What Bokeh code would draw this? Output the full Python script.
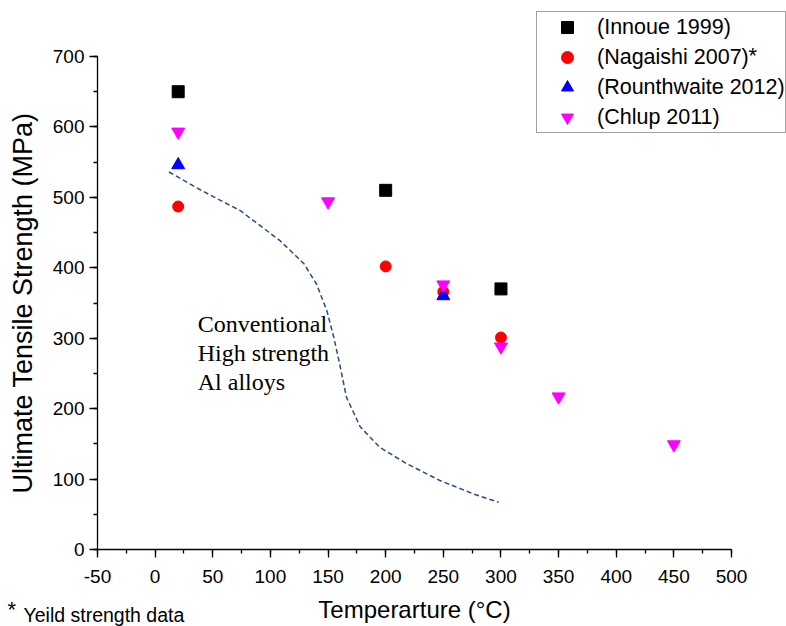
from bokeh.plotting import figure
from bokeh.models import Legend, LegendItem, Label, SingleIntervalTicker
from bokeh.core.properties import value
from bokeh.embed import file_html
from bokeh.resources import INLINE

# ---------------- data ----------------
innoue_t = [20, 200, 300]
innoue_s = [650, 510, 370]

nagaishi_t = [20, 200, 250, 300]
nagaishi_s = [487, 402, 366, 301]

rounth_t = [20, 250]
rounth_s = [546, 360]

chlup_t = [20, 150, 250, 300, 350, 450]
chlup_s = [593, 494, 376, 288, 217, 149]

conv_t = [12, 40, 74, 108, 129, 140, 149, 155, 160, 166, 178, 195, 218, 247, 276, 298]
conv_s = [536, 510, 481, 439, 406, 377, 339, 301, 264, 216, 174, 145, 122, 98, 79, 67]

series_labels = ["(Innoue 1999)", "(Nagaishi 2007)", "(Rounthwaite 2012)", "(Chlup 2011)"]
annotation_text = "Conventional\nHigh strength\nAl alloys"
annotation_pos = (37, 338)
footnote = "Yeild strength data"
x_axis_range = (-50, 500)
y_axis_range = (0, 700)

# ---------------- layout geometry (pixels) ----------------
W, H = 786, 626
FL, FR, FT, FB = 97, 731, 56, 549          # where the axes box sits in the picture
sx = (FR - FL) / (x_axis_range[1] - x_axis_range[0])
sy = (FB - FT) / (y_axis_range[1] - y_axis_range[0])
xr = (x_axis_range[0] - FL / sx, x_axis_range[1] + (W - FR) / sx)
yr = (y_axis_range[0] - (H - FB) / sy, y_axis_range[1] + FT / sy)

p = figure(width=W, height=H, x_range=xr, y_range=yr,
           output_backend="svg", toolbar_location=None, min_border=0)
p.outline_line_color = None
p.xgrid.visible = False
p.ygrid.visible = False
p.background_fill_color = "white"
p.border_fill_color = "white"

xa = p.xaxis[0]
ya = p.yaxis[0]
xa.fixed_location = y_axis_range[0]
xa.bounds = x_axis_range
ya.fixed_location = x_axis_range[0]
ya.bounds = y_axis_range
xa.ticker = SingleIntervalTicker(interval=50, num_minor_ticks=2)
ya.ticker = SingleIntervalTicker(interval=100, num_minor_ticks=2)
xa.major_label_overrides = {-50: "-50"}
for ax in (xa, ya):
    ax.axis_line_color = "black"
    ax.axis_line_width = 1.3
    ax.major_tick_line_color = "black"
    ax.minor_tick_line_color = "black"
    ax.major_tick_line_width = 1.3
    ax.minor_tick_line_width = 1.3
    ax.major_tick_in = 0
    ax.major_tick_out = 8
    ax.minor_tick_in = 0
    ax.minor_tick_out = 4
    ax.major_label_text_font = "Liberation Sans"
    ax.major_label_text_font_size = "19px"
    ax.major_label_text_color = "black"
    ax.axis_label_text_font = "Liberation Sans"
    ax.axis_label_text_font_style = "normal"
    ax.axis_label_text_color = "black"

xa.axis_label = "Temperarture (°C)"
xa.axis_label_text_font_size = "24px"
xa.major_label_standoff = 12
xa.axis_label_standoff = 10
ya.axis_label = "Ultimate Tensile Strength (MPa)"
ya.axis_label_text_font_size = "27px"
ya.major_label_standoff = 5
ya.axis_label_standoff = 12

# curve
p.line(conv_t, conv_s, line_color="#2B4C7E", line_width=1.5, line_dash="5 3")

# scatter series
r1 = p.scatter(innoue_t, innoue_s, marker="square", size=12, color="black")
r2 = p.scatter(nagaishi_t, nagaishi_s, marker="circle", size=11, color="#FF0000")
r3 = p.scatter(rounth_t, rounth_s, marker="triangle", size=13, color="#0000FF")
r4 = p.scatter(chlup_t, chlup_s, marker="inverted_triangle", size=13, color="#FF00FF")

# annotation text
p.text(x=[annotation_pos[0]], y=[annotation_pos[1]], text=[annotation_text],
       text_font=value("Liberation Serif"), text_font_size="24px",
       text_baseline="top", text_align="left", text_line_height=1.1, text_color="black")

# superscript asterisk for Nagaishi
p.add_layout(Label(x=748, y=H - 67, x_units="screen", y_units="screen", text="*",
                   text_font="Liberation Sans", text_font_size="22px", text_color="black"))

LEG_H = 120
legend = Legend(items=[LegendItem(label=series_labels[i], renderers=[r])
                       for i, r in enumerate([r1, r2, r3, r4])],
                location=(536, H - 13 - LEG_H), orientation="vertical",
                glyph_width=60, glyph_height=30, label_height=30,
                spacing=0, padding=0, margin=0, label_standoff=0,
                label_text_font="Liberation Sans", label_text_font_size="21.5px",
                label_text_color="black", border_line_color="#444444", border_line_width=1.2,
                background_fill_alpha=0.0)
p.add_layout(legend, "center")

# footnote
p.add_layout(Label(x=7, y=5, x_units="screen", y_units="screen", text="*",
                   text_font="Liberation Sans", text_font_size="22px", text_color="black"))
p.add_layout(Label(x=23, y=1, x_units="screen", y_units="screen", text=footnote,
                   text_font="Liberation Sans", text_font_size="19.5px", text_color="black"))

open("out.html", "w").write(file_html(p, INLINE))
